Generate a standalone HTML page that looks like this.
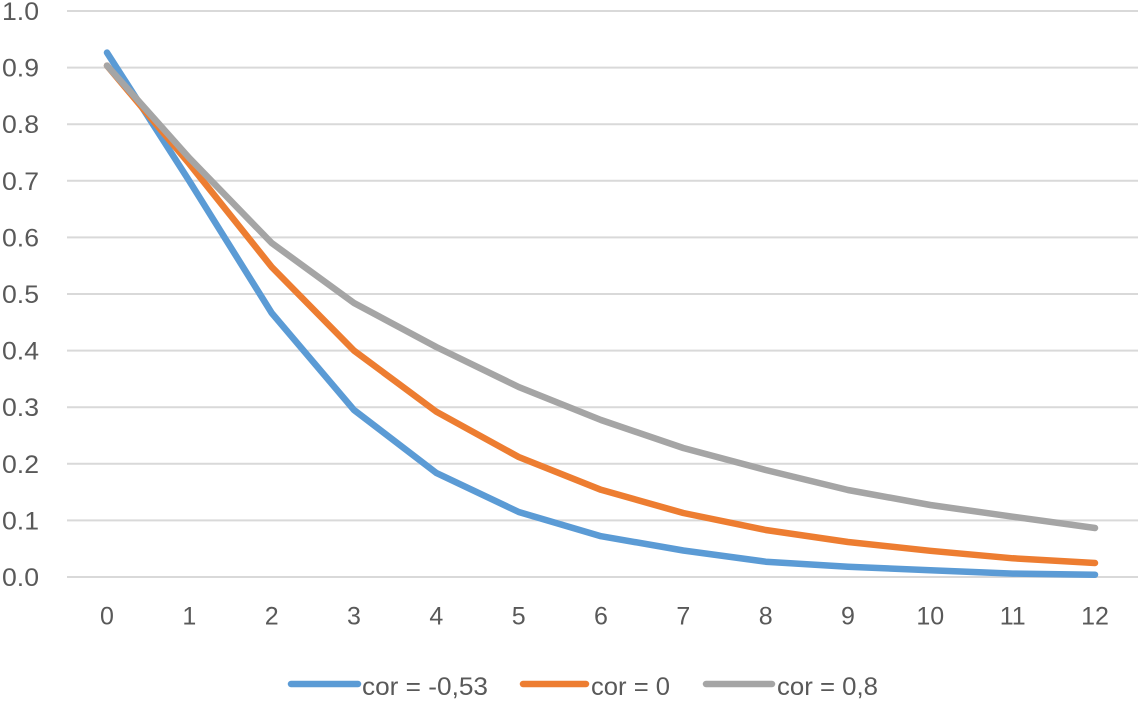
<!DOCTYPE html>
<html>
<head>
<meta charset="utf-8">
<style>
  html, body { margin: 0; padding: 0; background: #ffffff; }
  svg { display: block; }
  text { font-family: "Liberation Sans", "DejaVu Sans", sans-serif; fill: #595959; }
</style>
</head>
<body>
<svg width="1141" height="702" viewBox="0 0 1141 702" xmlns="http://www.w3.org/2000/svg">
  <rect width="1141" height="702" fill="#ffffff"/>
  <!-- gridlines -->
  <g stroke="#d9d9d9" stroke-width="2">
    <line x1="67" y1="11" x2="1138" y2="11"/>
    <line x1="67" y1="67.6" x2="1138" y2="67.6"/>
    <line x1="67" y1="124.2" x2="1138" y2="124.2"/>
    <line x1="67" y1="180.8" x2="1138" y2="180.8"/>
    <line x1="67" y1="237.4" x2="1138" y2="237.4"/>
    <line x1="67" y1="294" x2="1138" y2="294"/>
    <line x1="67" y1="350.6" x2="1138" y2="350.6"/>
    <line x1="67" y1="407.2" x2="1138" y2="407.2"/>
    <line x1="67" y1="463.8" x2="1138" y2="463.8"/>
    <line x1="67" y1="520.4" x2="1138" y2="520.4"/>
    <line x1="67" y1="577" x2="1138" y2="577"/>
  </g>
  <!-- y labels -->
  <g font-size="25">
    <text x="2" y="20" textLength="37" lengthAdjust="spacingAndGlyphs">1.0</text>
    <text x="2" y="76.6" textLength="37" lengthAdjust="spacingAndGlyphs">0.9</text>
    <text x="2" y="133.2" textLength="37" lengthAdjust="spacingAndGlyphs">0.8</text>
    <text x="2" y="189.8" textLength="37" lengthAdjust="spacingAndGlyphs">0.7</text>
    <text x="2" y="246.4" textLength="37" lengthAdjust="spacingAndGlyphs">0.6</text>
    <text x="2" y="303" textLength="37" lengthAdjust="spacingAndGlyphs">0.5</text>
    <text x="2" y="359.6" textLength="37" lengthAdjust="spacingAndGlyphs">0.4</text>
    <text x="2" y="416.2" textLength="37" lengthAdjust="spacingAndGlyphs">0.3</text>
    <text x="2" y="472.8" textLength="37" lengthAdjust="spacingAndGlyphs">0.2</text>
    <text x="2" y="529.4" textLength="37" lengthAdjust="spacingAndGlyphs">0.1</text>
    <text x="2" y="586" textLength="37" lengthAdjust="spacingAndGlyphs">0.0</text>
  </g>
  <!-- x labels -->
  <g font-size="25" text-anchor="middle">
    <text x="107" y="624.5">0</text>
    <text x="189.3" y="624.5">1</text>
    <text x="271.7" y="624.5">2</text>
    <text x="354" y="624.5">3</text>
    <text x="436.3" y="624.5">4</text>
    <text x="518.7" y="624.5">5</text>
    <text x="601" y="624.5">6</text>
    <text x="683.3" y="624.5">7</text>
    <text x="765.7" y="624.5">8</text>
    <text x="848" y="624.5">9</text>
    <text x="930.3" y="624.5">10</text>
    <text x="1012.7" y="624.5">11</text>
    <text x="1095" y="624.5">12</text>
  </g>
  <!-- series -->
  <g fill="none" stroke-width="6.5" stroke-linecap="round" stroke-linejoin="round">
    <polyline stroke="#5B9BD5" points="107,52.6 189.3,181 271.7,313 354,410 436.3,472.9 518.7,512 601,536.2 683.3,550.5 765.7,561.7 848,566.8 930.3,570.2 1012.7,573.6 1095,574.7"/>
    <polyline stroke="#ED7D31" points="107,65.6 189.3,163.8 271.7,267 354,350.6 436.3,411.7 518.7,457 601,489.8 683.3,513 765.7,530 848,542 930.3,550.8 1012.7,558.3 1095,563"/>
    <polyline stroke="#A5A5A5" points="107,65.6 189.3,158 271.7,243 354,303 436.3,347 518.7,387 601,420 683.3,448 765.7,470 848,490 930.3,505 1012.7,516.7 1095,528"/>
  </g>
  <!-- legend -->
  <g stroke-width="6.5" stroke-linecap="round">
    <line x1="291" y1="684" x2="358" y2="684" stroke="#5B9BD5"/>
    <line x1="523" y1="684" x2="586" y2="684" stroke="#ED7D31"/>
    <line x1="706" y1="684" x2="772" y2="684" stroke="#A5A5A5"/>
  </g>
  <g font-size="25">
    <text x="362" y="695" textLength="126" lengthAdjust="spacingAndGlyphs">cor = -0,53</text>
    <text x="591" y="695" textLength="79" lengthAdjust="spacingAndGlyphs">cor = 0</text>
    <text x="777" y="695" textLength="101" lengthAdjust="spacingAndGlyphs">cor = 0,8</text>
  </g>
</svg>
</body>
</html>
